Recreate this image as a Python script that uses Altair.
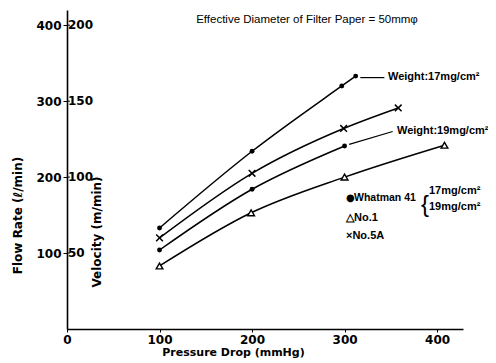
import altair as alt
import pandas as pd

# ---- data ----
w17_p = [100, 200, 297, 312]
w17_q = [133, 234, 320, 333]
n5a_p = [100, 200, 299, 358]
n5a_q = [120, 205, 264, 291]
w19_p = [100, 200, 300]
w19_q = [104, 184, 241]
no1_p = [100, 199, 300, 408]
no1_q = [83, 153, 200, 242]

lead17_p = [317, 343]
lead17_q = [331, 331]
lead19_p = [305, 352]
lead19_q = [243, 260]

flow_ticks = [100, 200, 300, 400]
vel_labels = ["50", "100", "150", "200"]
x_ticks = [0, 100, 200, 300, 400]

FONT = "DejaVu Sans"
NFONT = "Liberation Sans"

rows = []
for name, ps, qs in [("w17", w17_p, w17_q), ("n5a", n5a_p, n5a_q),
                     ("w19", w19_p, w19_q), ("no1", no1_p, no1_q)]:
    for p, q in zip(ps, qs):
        rows.append({"series": name, "p": p, "q": q})
df = pd.DataFrame(rows)

lead_rows = []
for name, ps, qs in [("l17", lead17_p, lead17_q), ("l19", lead19_p, lead19_q)]:
    for p, q in zip(ps, qs):
        lead_rows.append({"series": name, "p": p, "q": q})
lead_df = pd.DataFrame(lead_rows)

xs = alt.Scale(domain=[0, 428], nice=False, zero=False)
ys = alt.Scale(domain=[0, 420], nice=False, zero=False)

xenc = alt.X("p:Q", scale=xs, axis=alt.Axis(
    values=x_ticks, title="Pressure Drop (mmHg)", titleX=166, titleY=23,
    titleBaseline="middle", titleFontSize=11, titleFontWeight="bold",
    labelFontSize=12, tickSize=3, labelPadding=2))
yenc = alt.Y("q:Q", scale=ys, axis=alt.Axis(
    values=flow_ticks, title="Flow Rate (ℓ/min)", titleX=-50, titleY=205,
    titleAngle=270, titleBaseline="middle", titleAlign="center",
    titleFontSize=12, titleFontWeight="bold",
    labelFontSize=12, tickSize=4, labelPadding=2))

base = alt.Chart(df)
lines = base.mark_line(interpolate="monotone", color="black", strokeWidth=1.5).encode(
    x=xenc, y=yenc, detail="series:N")

leads = alt.Chart(lead_df).mark_line(color="black", strokeWidth=1.2).encode(
    x=alt.X("p:Q", scale=xs), y=alt.Y("q:Q", scale=ys), detail="series:N")

dots = alt.Chart(df[df.series.isin(["w17", "w19"])]).mark_point(
    shape="circle", filled=True, color="black", size=24, opacity=1).encode(
    x=alt.X("p:Q", scale=xs), y=alt.Y("q:Q", scale=ys))
tris = alt.Chart(df[df.series == "no1"]).mark_point(
    shape="triangle-up", filled=False, color="black", size=45, strokeWidth=1.4,
    fill="white", opacity=1).encode(
    x=alt.X("p:Q", scale=xs), y=alt.Y("q:Q", scale=ys))
crosses = alt.Chart(df[df.series == "n5a"]).mark_point(
    shape="M-1,-1L1,1M-1,1L1,-1", filled=False, color="black", size=45,
    strokeWidth=1.5, opacity=1).encode(
    x=alt.X("p:Q", scale=xs), y=alt.Y("q:Q", scale=ys))

vel = alt.Chart(pd.DataFrame({"q": flow_ticks, "v": vel_labels})).mark_text(
    align="left", baseline="middle", dx=1, font=FONT, fontSize=12,
    fontWeight="bold", color="black").encode(
    x=alt.value(0), y=alt.Y("q:Q", scale=ys), text="v:N")
vel_ticks = alt.Chart(pd.DataFrame({"q": flow_ticks})).mark_rule(
    color="black", strokeWidth=1).encode(
    x=alt.value(0), x2=alt.value(3), y=alt.Y("q:Q", scale=ys))


def txt(s, x, y, size=11, weight="bold", angle=0, align="left", font=NFONT):
    return alt.Chart(pd.DataFrame({"t": [s]})).mark_text(
        align=align, baseline="middle", font=font, fontSize=size,
        fontWeight=weight, angle=angle, color="black").encode(
        x=alt.value(x), y=alt.value(y), text="t:N")


notes = [
    txt("Effective Diameter of Filter Paper = 50mmφ", 240, 10, size=11.5,
        weight="normal", align="center"),
    txt("Velocity (m/min)", 30, 222, size=12, angle=270, align="center", font=FONT),
    txt("Weight:17mg/cm²", 321, 67, size=11),
    txt("Weight:19mg/cm²", 330, 121, size=11),
    txt("●", 279, 188, size=10, font=FONT),
    txt("Whatman 41", 287, 188, size=10.5),
    txt("{", 354, 195, size=24, weight="normal"),
    txt("17mg/cm²", 362, 181, size=11),
    txt("19mg/cm²", 362, 197, size=11),
    txt("△No.1", 279, 208, size=11),
    txt("×No.5A", 279, 226, size=11),
]

chart = alt.layer(lines, leads, dots, tris, crosses, vel_ticks, vel, *notes).properties(
    width=396, height=319,
    autosize=alt.AutoSizeParams(type="none"),
    padding={"left": 59, "top": 2, "right": 25, "bottom": 34},
    background="white",
).configure_view(stroke=None).configure_axis(
    grid=False, domainColor="black", domainWidth=1.6, tickColor="black",
    labelColor="black", titleColor="black", labelFont=FONT, titleFont=FONT,
    labelFontWeight="bold",
).configure_axisX(labelFlush=False)

chart.save("out.html", embed_options={"renderer": "svg", "actions": False})
